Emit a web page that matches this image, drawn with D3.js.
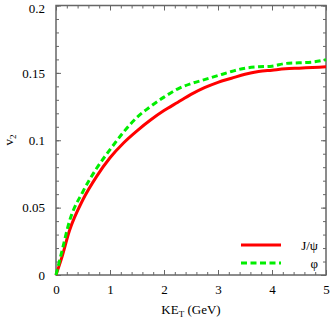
<!DOCTYPE html>
<html>
<head>
<meta charset="utf-8">
<script src="https://cdn.jsdelivr.net/npm/d3@7"></script>
<style>
  body { margin: 0; background: #fff; }
  text { font-family: "Liberation Serif", "DejaVu Serif", serif; fill: #000; }
</style>
</head>
<body>
<div id="chart"></div>
<script>
// values
const keT = [0, 0.1, 0.25, 0.5, 0.75, 1, 1.25, 1.5, 1.75, 2, 2.25, 2.5, 2.75, 3, 3.25, 3.5, 3.75, 4, 4.25, 4.5, 4.75, 5];
const v2Jpsi = [0, 0.012, 0.033, 0.056, 0.073, 0.087, 0.098, 0.107, 0.115, 0.122, 0.128, 0.134, 0.139, 0.143, 0.146, 0.149, 0.151, 0.152, 0.153, 0.1535, 0.154, 0.1545];
const v2Phi = [0, 0.016, 0.040, 0.062, 0.079, 0.093, 0.106, 0.117, 0.125, 0.132, 0.138, 0.142, 0.145, 0.148, 0.151, 0.1535, 0.1545, 0.155, 0.157, 0.1575, 0.158, 0.1598];
const xTicks = [0, 1, 2, 3, 4, 5];
const yTicks = [0, 0.05, 0.1, 0.15, 0.2];
const seriesNames = ["J/\u03c8", "\u03c6"];

const W = 332, H = 322;
const m = {left: 56, right: 6, top: 5.5, bottom: 47};

const svg = d3.select("#chart").append("svg")
    .attr("width", W)
    .attr("height", H);

const x = d3.scaleLinear().domain([0, 5]).range([m.left, W - m.right]);
const y = d3.scaleLinear().domain([0, 0.2]).range([H - m.bottom, m.top]);

const axisColor = "#666";

// ticks, inside, on all four sides
function styleAxis(g) {
    g.select(".domain").remove();
    g.selectAll(".tick line").attr("stroke", axisColor).attr("stroke-width", 1);
}
const xMinor = d3.range(0, 5.001, 0.2);
const yMinor = d3.range(0, 0.2001, 0.01);

svg.append("g").attr("transform", `translate(0,${y(0)})`)
    .call(d3.axisBottom(x).tickValues(xMinor).tickSize(-3).tickFormat(""))
    .call(styleAxis);
svg.append("g").attr("transform", `translate(0,${y(0)})`)
    .call(d3.axisBottom(x).tickValues(xTicks).tickSize(-5).tickPadding(10).tickFormat(d3.format("d")))
    .call(styleAxis)
    .call(g => g.selectAll("text").attr("font-size", 13).attr("font-family", "Liberation Serif"));
svg.append("g").attr("transform", `translate(0,${y(0.2)})`)
    .call(d3.axisTop(x).tickValues(xMinor).tickSize(-3).tickFormat(""))
    .call(styleAxis);
svg.append("g").attr("transform", `translate(0,${y(0.2)})`)
    .call(d3.axisTop(x).tickValues(xTicks).tickSize(-5).tickFormat(""))
    .call(styleAxis);

svg.append("g").attr("transform", `translate(${x(0)},0)`)
    .call(d3.axisLeft(y).tickValues(yMinor).tickSize(-3).tickFormat(""))
    .call(styleAxis);
svg.append("g").attr("transform", `translate(${x(0)},0)`)
    .call(d3.axisLeft(y).tickValues(yTicks).tickSize(-5).tickPadding(11).tickFormat(d => d === 0 ? "0" : String(d)))
    .call(styleAxis)
    .call(g => g.selectAll("text").attr("font-size", 13).attr("font-family", "Liberation Serif")
        .attr("dy", d => d === 0.2 ? "0.5em" : "0.32em"));
svg.append("g").attr("transform", `translate(${x(5)},0)`)
    .call(d3.axisRight(y).tickValues(yMinor).tickSize(-3).tickFormat(""))
    .call(styleAxis);
svg.append("g").attr("transform", `translate(${x(5)},0)`)
    .call(d3.axisRight(y).tickValues(yTicks).tickSize(-5).tickFormat(""))
    .call(styleAxis);

// frame
svg.append("rect")
    .attr("x", x(0)).attr("y", y(0.2))
    .attr("width", x(5) - x(0)).attr("height", y(0) - y(0.2))
    .attr("fill", "none").attr("stroke", axisColor).attr("stroke-width", 1.5);

// curves
const line = d3.line().x(d => x(d[0])).y(d => y(d[1])).curve(d3.curveMonotoneX);

svg.append("path")
    .datum(keT.map((k, i) => [k, v2Jpsi[i]]))
    .attr("d", line)
    .attr("fill", "none").attr("stroke", "#ff0000").attr("stroke-width", 3);

svg.append("path")
    .datum(keT.map((k, i) => [k, v2Phi[i]]))
    .attr("d", line)
    .attr("fill", "none").attr("stroke", "#00ee00").attr("stroke-width", 3)
    .attr("stroke-dasharray", "6,3.5");

// legend
const legend = svg.append("g");
const legColors = ["#ff0000", "#00ee00"];
const legDash = [null, "6,3.5"];
seriesNames.forEach((name, i) => {
    const ly = 245 + i * 18;
    legend.append("line")
        .attr("x1", 241).attr("x2", 281).attr("y1", ly).attr("y2", ly)
        .attr("stroke", legColors[i]).attr("stroke-width", 3)
        .attr("stroke-dasharray", legDash[i]);
    legend.append("text")
        .attr("x", 318).attr("y", ly + 4.5)
        .attr("text-anchor", "end")
        .attr("font-size", 13)
        .text(name);
});

// axis titles
const xt = svg.append("text")
    .attr("x", 191).attr("y", 314)
    .attr("text-anchor", "middle")
    .attr("font-size", 13);
xt.append("tspan").text("KE");
xt.append("tspan").attr("font-size", 9).attr("dy", 3).text("T");
xt.append("tspan").attr("dy", -3).text(" (GeV)");

const yt = svg.append("text")
    .attr("transform", "translate(13,140) rotate(-90)")
    .attr("text-anchor", "middle")
    .attr("font-size", 13);
yt.append("tspan").text("v");
yt.append("tspan").attr("font-size", 9).attr("dy", 3).text("2");
</script>
</body>
</html>
